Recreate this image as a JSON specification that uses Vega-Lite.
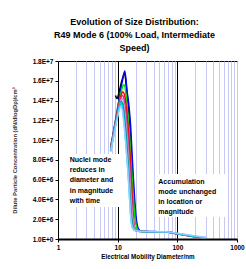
{
  "$schema": "https://vega.github.io/schema/vega-lite/v6.json",
  "width": 179,
  "height": 178,
  "padding": {"left": 11, "top": 18, "right": 0, "bottom": 2},
  "background": "white",
  "title": {
    "text": ["Evolution of Size Distribution:", "R49 Mode 6 (100% Load, Intermediate", "Speed)"],
    "fontSize": 9,
    "fontWeight": "bold",
    "font": "Liberation Sans",
    "lineHeight": 13,
    "anchor": "middle",
    "frame": "group",
    "dx": -13,
    "offset": 5,
    "color": "#000"
  },
  "datasets": {
    "curves": [
      {"s":"s1","d":9.2,"n":14.5e6},{"s":"s1","d":9.8,"n":14.2e6},{"s":"s1","d":10.6,"n":14.9e6},{"s":"s1","d":11.4,"n":15.7e6},{"s":"s1","d":12.3,"n":16.4e6},{"s":"s1","d":13.0,"n":16.8e6},{"s":"s1","d":14.2,"n":15.0e6},{"s":"s1","d":15.3,"n":13.0e6},{"s":"s1","d":16.3,"n":10.8e6},{"s":"s1","d":17.2,"n":8.0e6},{"s":"s1","d":18.1,"n":5.6e6},{"s":"s1","d":19.0,"n":3.6e6},{"s":"s1","d":20.0,"n":2.0e6},{"s":"s1","d":21.5,"n":1.1e6},{"s":"s1","d":23,"n":0.85e6},{"s":"s1","d":26,"n":0.76e6},{"s":"s1","d":40,"n":0.74e6},{"s":"s1","d":65,"n":0.72e6},{"s":"s1","d":94,"n":0.56e6},{"s":"s1","d":150,"n":0.35e6},{"s":"s1","d":220,"n":0.18e6},{"s":"s1","d":300,"n":0.08e6},
      {"s":"s2","d":7.6,"n":9.3e6},{"s":"s2","d":8.3,"n":10.5e6},{"s":"s2","d":9.0,"n":11.7e6},{"s":"s2","d":9.8,"n":13.0e6},{"s":"s2","d":10.6,"n":14.2e6},{"s":"s2","d":11.4,"n":15.3e6},{"s":"s2","d":12.3,"n":16.3e6},{"s":"s2","d":13.2,"n":17.0e6},{"s":"s2","d":14.4,"n":14.9e6},{"s":"s2","d":15.5,"n":13.4e6},{"s":"s2","d":16.5,"n":11.4e6},{"s":"s2","d":17.3,"n":9.0e6},{"s":"s2","d":18.2,"n":6.5e6},{"s":"s2","d":19.2,"n":4.2e6},{"s":"s2","d":20.2,"n":2.4e6},{"s":"s2","d":21.5,"n":1.3e6},{"s":"s2","d":23,"n":0.9e6},{"s":"s2","d":26,"n":0.77e6},{"s":"s2","d":40,"n":0.75e6},{"s":"s2","d":65,"n":0.73e6},{"s":"s2","d":94,"n":0.57e6},{"s":"s2","d":150,"n":0.36e6},{"s":"s2","d":220,"n":0.19e6},{"s":"s2","d":300,"n":0.08e6},
      {"s":"s3","d":7.6,"n":9.2e6},{"s":"s3","d":8.3,"n":10.4e6},{"s":"s3","d":9.0,"n":11.6e6},{"s":"s3","d":9.8,"n":12.8e6},{"s":"s3","d":10.6,"n":13.9e6},{"s":"s3","d":11.4,"n":14.8e6},{"s":"s3","d":12.3,"n":15.5e6},{"s":"s3","d":12.9,"n":15.6e6},{"s":"s3","d":14.0,"n":14.2e6},{"s":"s3","d":15.0,"n":12.2e6},{"s":"s3","d":16.0,"n":10.0e6},{"s":"s3","d":17.0,"n":7.3e6},{"s":"s3","d":18.0,"n":5.0e6},{"s":"s3","d":19.0,"n":3.0e6},{"s":"s3","d":20.0,"n":1.7e6},{"s":"s3","d":21.5,"n":1.0e6},{"s":"s3","d":23,"n":0.82e6},{"s":"s3","d":26,"n":0.75e6},{"s":"s3","d":40,"n":0.74e6},{"s":"s3","d":65,"n":0.72e6},{"s":"s3","d":94,"n":0.56e6},{"s":"s3","d":150,"n":0.35e6},{"s":"s3","d":220,"n":0.18e6},{"s":"s3","d":300,"n":0.08e6},
      {"s":"s4","d":7.6,"n":9.1e6},{"s":"s4","d":8.3,"n":10.3e6},{"s":"s4","d":9.0,"n":11.5e6},{"s":"s4","d":9.8,"n":12.7e6},{"s":"s4","d":10.6,"n":13.7e6},{"s":"s4","d":11.4,"n":14.5e6},{"s":"s4","d":12.2,"n":14.9e6},{"s":"s4","d":13.0,"n":14.6e6},{"s":"s4","d":14.0,"n":13.2e6},{"s":"s4","d":15.0,"n":11.2e6},{"s":"s4","d":16.0,"n":8.8e6},{"s":"s4","d":17.0,"n":5.8e6},{"s":"s4","d":18.0,"n":3.0e6},{"s":"s4","d":18.8,"n":1.5e6},{"s":"s4","d":20.0,"n":0.95e6},{"s":"s4","d":22,"n":0.8e6},{"s":"s4","d":26,"n":0.75e6},{"s":"s4","d":40,"n":0.74e6},{"s":"s4","d":65,"n":0.72e6},{"s":"s4","d":94,"n":0.56e6},{"s":"s4","d":150,"n":0.35e6},{"s":"s4","d":220,"n":0.18e6},{"s":"s4","d":300,"n":0.08e6},
      {"s":"s5","d":7.6,"n":9.0e6},{"s":"s5","d":8.3,"n":10.2e6},{"s":"s5","d":9.0,"n":11.4e6},{"s":"s5","d":9.8,"n":12.5e6},{"s":"s5","d":10.6,"n":13.5e6},{"s":"s5","d":11.3,"n":14.2e6},{"s":"s5","d":12.0,"n":14.5e6},{"s":"s5","d":12.8,"n":14.1e6},{"s":"s5","d":13.8,"n":12.6e6},{"s":"s5","d":14.8,"n":10.4e6},{"s":"s5","d":15.8,"n":7.8e6},{"s":"s5","d":16.8,"n":5.0e6},{"s":"s5","d":17.8,"n":2.7e6},{"s":"s5","d":18.8,"n":1.4e6},{"s":"s5","d":20.0,"n":0.95e6},{"s":"s5","d":22,"n":0.8e6},{"s":"s5","d":26,"n":0.75e6},{"s":"s5","d":40,"n":0.73e6},{"s":"s5","d":65,"n":0.71e6},{"s":"s5","d":94,"n":0.55e6},{"s":"s5","d":150,"n":0.34e6},{"s":"s5","d":220,"n":0.17e6},{"s":"s5","d":300,"n":0.07e6},
      {"s":"s6","d":7.6,"n":9.0e6},{"s":"s6","d":8.3,"n":10.1e6},{"s":"s6","d":9.0,"n":11.3e6},{"s":"s6","d":9.8,"n":12.4e6},{"s":"s6","d":10.6,"n":13.4e6},{"s":"s6","d":11.2,"n":13.9e6},{"s":"s6","d":11.8,"n":14.2e6},{"s":"s6","d":12.6,"n":13.7e6},{"s":"s6","d":13.6,"n":12.0e6},{"s":"s6","d":14.6,"n":9.8e6},{"s":"s6","d":15.6,"n":7.2e6},{"s":"s6","d":16.6,"n":4.5e6},{"s":"s6","d":17.6,"n":2.4e6},{"s":"s6","d":18.6,"n":1.3e6},{"s":"s6","d":20.0,"n":0.9e6},{"s":"s6","d":22,"n":0.79e6},{"s":"s6","d":26,"n":0.75e6},{"s":"s6","d":40,"n":0.73e6},{"s":"s6","d":65,"n":0.71e6},{"s":"s6","d":94,"n":0.55e6},{"s":"s6","d":150,"n":0.34e6},{"s":"s6","d":220,"n":0.17e6},{"s":"s6","d":300,"n":0.07e6},
      {"s":"s7","d":7.6,"n":8.9e6},{"s":"s7","d":8.3,"n":10.0e6},{"s":"s7","d":9.0,"n":11.2e6},{"s":"s7","d":9.8,"n":12.3e6},{"s":"s7","d":10.6,"n":13.3e6},{"s":"s7","d":11.5,"n":13.9e6},{"s":"s7","d":12.3,"n":13.5e6},{"s":"s7","d":13.2,"n":12.0e6},{"s":"s7","d":14.1,"n":10.0e6},{"s":"s7","d":15.0,"n":7.6e6},{"s":"s7","d":15.9,"n":5.0e6},{"s":"s7","d":16.8,"n":2.8e6},{"s":"s7","d":17.7,"n":1.5e6},{"s":"s7","d":18.8,"n":1.0e6},{"s":"s7","d":20.5,"n":0.82e6},{"s":"s7","d":23,"n":0.77e6},{"s":"s7","d":26,"n":0.75e6},{"s":"s7","d":40,"n":0.73e6},{"s":"s7","d":65,"n":0.71e6},{"s":"s7","d":94,"n":0.56e6},{"s":"s7","d":150,"n":0.36e6},{"s":"s7","d":220,"n":0.2e6},{"s":"s7","d":300,"n":0.1e6},
      {"s":"s8","d":7.6,"n":8.9e6},{"s":"s8","d":8.3,"n":10.0e6},{"s":"s8","d":9.0,"n":11.2e6},{"s":"s8","d":9.8,"n":12.3e6},{"s":"s8","d":10.6,"n":13.3e6},{"s":"s8","d":11.3,"n":13.75e6},{"s":"s8","d":12.0,"n":13.3e6},{"s":"s8","d":12.7,"n":12.0e6},{"s":"s8","d":13.6,"n":10.0e6},{"s":"s8","d":14.5,"n":7.8e6},{"s":"s8","d":15.4,"n":5.5e6},{"s":"s8","d":16.1,"n":3.4e6},{"s":"s8","d":16.8,"n":1.9e6},{"s":"s8","d":17.8,"n":1.1e6},{"s":"s8","d":19.5,"n":0.85e6},{"s":"s8","d":22,"n":0.78e6},{"s":"s8","d":26,"n":0.75e6},{"s":"s8","d":40,"n":0.73e6},{"s":"s8","d":65,"n":0.71e6},{"s":"s8","d":94,"n":0.58e6},{"s":"s8","d":150,"n":0.4e6},{"s":"s8","d":220,"n":0.24e6},{"s":"s8","d":300,"n":0.14e6},
      {"s":"s9","d":7.6,"n":8.8e6},{"s":"s9","d":8.3,"n":9.9e6},{"s":"s9","d":9.0,"n":11.0e6},{"s":"s9","d":9.8,"n":12.1e6},{"s":"s9","d":10.6,"n":13.0e6},{"s":"s9","d":11.2,"n":13.4e6},{"s":"s9","d":11.9,"n":13.1e6},{"s":"s9","d":12.6,"n":11.9e6},{"s":"s9","d":13.5,"n":10.0e6},{"s":"s9","d":14.4,"n":7.9e6},{"s":"s9","d":15.3,"n":5.6e6},{"s":"s9","d":16.0,"n":3.6e6},{"s":"s9","d":16.7,"n":2.0e6},{"s":"s9","d":17.6,"n":1.2e6},{"s":"s9","d":19.2,"n":0.9e6},{"s":"s9","d":22,"n":0.8e6},{"s":"s9","d":26,"n":0.77e6},{"s":"s9","d":40,"n":0.75e6},{"s":"s9","d":65,"n":0.73e6},{"s":"s9","d":94,"n":0.6e6},{"s":"s9","d":150,"n":0.42e6},{"s":"s9","d":220,"n":0.27e6},{"s":"s9","d":300,"n":0.16e6}
    ],
    "boxes": [
      {"d": 1.35, "d2": 11.3, "n": 3.24e6, "n2": 8.6e6},
      {"d": 42, "d2": 658, "n": 2.22e6, "n2": 6.57e6}
    ],
    "notes": [
      {"d": 1.57, "n": 8.39e6, "label": "Nuclei mode\nreduces in\ndiameter and\nin magnitude\nwith time"},
      {"d": 48, "n": 6.2e6, "label": "Accumulation\nmode unchanged\nin location or\nmagnitude"}
    ]
  },
  "encoding": {
    "x": {
      "field": "d", "type": "quantitative",
      "scale": {"type": "log", "domain": [1, 1000]},
      "axis": {
        "title": "Electrical Mobility Diameter/nm",
        "titleFontSize": 6.3,
        "titlePadding": 3,
        "values": [1,2,3,4,5,6,7,8,9,10,20,30,40,50,60,70,80,90,100,200,300,400,500,600,700,800,900,1000],
        "labelExpr": "indexof([1,10,100,1000], datum.value) >= 0 ? format(datum.value, 'd') : ''",
        "labelOverlap": false,
        "grid": true,
        "gridColor": {"condition": {"test": "datum.value == 10 || datum.value == 100", "value": "#000000"}, "value": "#c8c8f4"},
        "gridWidth": 1,
        "tickColor": {"condition": {"test": "indexof([1,10,100,1000], datum.value) >= 0", "value": "#000000"}, "value": "transparent"},
        "tickSize": 3,
        "domainColor": "#000",
        "domainWidth": 2,
        "labelPadding": 2,
        "labelFlush": false
      }
    },
    "y": {
      "field": "n", "type": "quantitative",
      "scale": {"domain": [0, 18000000], "nice": false},
      "axis": {
        "title": "Dilute Particle Concentration (dN/dlogDp)/cm³",
        "titleFontSize": 5.8,
        "titleColor": "#333",
        "titlePadding": 15,
        "values": [0,2000000,4000000,6000000,8000000,10000000,12000000,14000000,16000000,18000000],
        "labelExpr": "datum.value == 0 ? '1.0E+0' : datum.value >= 10000000 ? format(datum.value/10000000, '.1f') + 'E+7' : format(datum.value/1000000, '.1f') + 'E+6'",
        "labelOverlap": false,
        "labelFlush": false,
        "grid": false,
        "tickSize": 3,
        "tickColor": "#000",
        "domainColor": "#000",
        "labelPadding": 2
      }
    }
  },
  "layer": [
    {
      "data": {"name": "boxes"},
      "mark": {"type": "rect", "fill": "white", "stroke": null},
      "encoding": {
        "x2": {"field": "d2"},
        "y2": {"field": "n2"}
      }
    },
    {
      "data": {"name": "curves"},
      "mark": {"type": "line", "strokeWidth": 1.5, "interpolate": "monotone"},
      "encoding": {
        "color": {
          "field": "s", "type": "nominal", "legend": null,
          "scale": {"domain": ["s1","s2","s3","s4","s5","s6","s7","s8","s9"],
                    "range": ["#000000","#0000ff","#00e000","#ff0000","#cc3399","#cc99cc","#009999","#00ccff","#99ccff"]}
        }
      }
    },
    {
      "data": {"name": "notes"},
      "mark": {"type": "text", "align": "left", "baseline": "top", "lineBreak": "\n", "lineHeight": 10.2, "fontSize": 7, "fontWeight": "bold", "font": "Liberation Sans", "color": "#000"},
      "encoding": {
        "text": {"field": "label"}
      }
    }
  ],
  "config": {
    "font": "Liberation Sans",
    "view": {"stroke": "#000", "strokeWidth": 1},
    "axis": {"labelFont": "Liberation Sans", "labelFontWeight": "bold", "labelFontSize": 6.5, "labelColor": "#000", "titleFont": "Liberation Sans", "titleFontWeight": "bold", "titleColor": "#000"}
  }
}
